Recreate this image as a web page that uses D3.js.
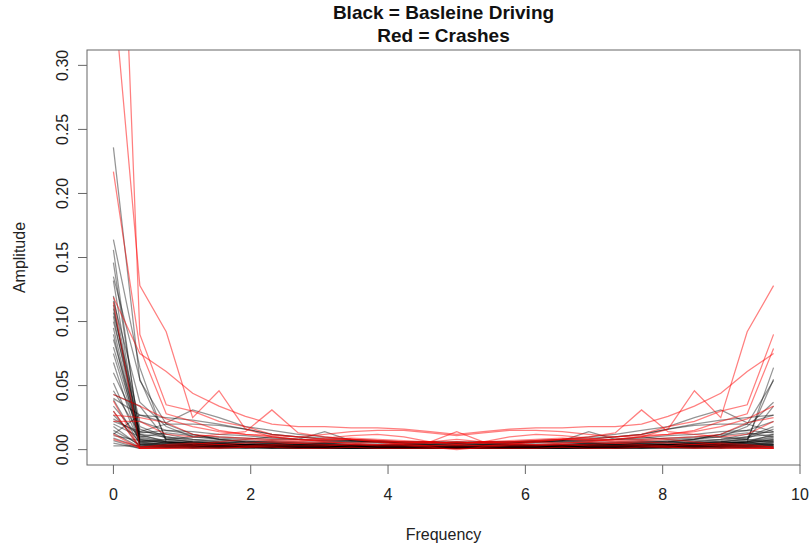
<html>
    <head>
        <script src="https://d3js.org/d3.v7.min.js" charset="utf-8"></script>
    </head>

    <style>
        body{
            margin:0;
            background:white;
        }
        text{
            font-family:"Liberation Sans", Arial, Helvetica, sans-serif;
        }
    </style>

    <body>
        <div id='graph'></div>
    </body>

    <script>
        // frequency bins (26 points, 0 .. 9.615)
        const freq = [0, 0.385, 0.769, 1.154, 1.538, 1.923, 2.308, 2.692, 3.077, 3.462, 3.846, 4.231, 4.615,
                      5.0, 5.385, 5.769, 6.154, 6.538, 6.923, 7.308, 7.692, 8.077, 8.462, 8.846, 9.231, 9.615];

        const xTicks = [0, 2, 4, 6, 8, 10];
        const yTicks = [0, 0.05, 0.10, 0.15, 0.20, 0.25, 0.30];
        const titleLines = ['Black = Basleine Driving', 'Red = Crashes'];

        // baseline driving spectra (black)
        const baseline = [
            [0.236,0.054,0.020,0.012,0.008,0.006,0.005,0.004,0.004,0.003,0.003,0.002,0.003,0.002,0.003,0.002,0.003,0.003,0.004,0.004,0.005,0.006,0.008,0.012,0.020,0.054],
            [0.146,0.012,0.006,0.004,0.004,0.003,0.003,0.002,0.003,0.002,0.002,0.002,0.001,0.002,0.001,0.002,0.002,0.002,0.003,0.002,0.003,0.003,0.004,0.004,0.006,0.012],
            [0.164,0.064,0.006,0.005,0.004,0.004,0.003,0.003,0.003,0.002,0.003,0.002,0.002,0.002,0.002,0.002,0.003,0.002,0.003,0.003,0.003,0.004,0.004,0.005,0.006,0.064],
            [0.156,0.008,0.005,0.003,0.004,0.003,0.002,0.003,0.002,0.002,0.003,0.002,0.002,0.001,0.002,0.002,0.003,0.002,0.002,0.003,0.002,0.003,0.004,0.003,0.005,0.008],
            [0.135,0.055,0.008,0.006,0.005,0.004,0.004,0.003,0.004,0.003,0.003,0.003,0.002,0.003,0.002,0.003,0.003,0.003,0.004,0.003,0.004,0.004,0.005,0.006,0.008,0.055],
            [0.132,0.006,0.004,0.003,0.002,0.003,0.002,0.002,0.002,0.001,0.002,0.002,0.001,0.001,0.001,0.002,0.002,0.001,0.002,0.002,0.002,0.003,0.002,0.003,0.004,0.006],
            [0.116,0.037,0.018,0.010,0.008,0.006,0.005,0.005,0.004,0.004,0.003,0.003,0.003,0.002,0.003,0.003,0.003,0.004,0.004,0.005,0.005,0.006,0.008,0.010,0.018,0.037],
            [0.113,0.004,0.003,0.003,0.002,0.002,0.002,0.001,0.002,0.002,0.001,0.001,0.001,0.001,0.001,0.001,0.001,0.002,0.002,0.001,0.002,0.002,0.002,0.003,0.003,0.004],
            [0.107,0.022,0.015,0.012,0.008,0.007,0.006,0.005,0.005,0.004,0.004,0.004,0.003,0.003,0.003,0.004,0.004,0.004,0.005,0.005,0.006,0.007,0.008,0.012,0.015,0.022],
            [0.104,0.005,0.004,0.002,0.003,0.002,0.002,0.002,0.001,0.002,0.002,0.001,0.002,0.001,0.002,0.001,0.002,0.002,0.001,0.002,0.002,0.002,0.003,0.002,0.004,0.005],
            [0.110,0.010,0.006,0.005,0.004,0.003,0.003,0.003,0.002,0.002,0.002,0.002,0.002,0.002,0.002,0.002,0.002,0.002,0.002,0.003,0.003,0.003,0.004,0.005,0.006,0.010],
            [0.086,0.014,0.012,0.008,0.006,0.005,0.004,0.004,0.003,0.003,0.003,0.003,0.002,0.002,0.002,0.003,0.003,0.003,0.003,0.004,0.004,0.005,0.006,0.008,0.012,0.014],
            [0.075,0.008,0.005,0.004,0.003,0.003,0.002,0.002,0.002,0.002,0.002,0.001,0.001,0.002,0.001,0.001,0.002,0.002,0.002,0.002,0.002,0.003,0.003,0.004,0.005,0.008],
            [0.043,0.034,0.008,0.006,0.005,0.004,0.004,0.003,0.003,0.003,0.002,0.002,0.002,0.002,0.002,0.002,0.002,0.003,0.003,0.003,0.004,0.004,0.005,0.006,0.008,0.034],
            [0.039,0.004,0.003,0.003,0.002,0.002,0.002,0.002,0.001,0.001,0.002,0.001,0.001,0.001,0.001,0.001,0.002,0.001,0.001,0.002,0.002,0.002,0.002,0.003,0.003,0.004],
            [0.012,0.027,0.021,0.031,0.025,0.018,0.015,0.012,0.010,0.008,0.007,0.006,0.006,0.005,0.006,0.006,0.007,0.008,0.010,0.012,0.015,0.018,0.025,0.031,0.021,0.027],
            [0.027,0.006,0.008,0.010,0.009,0.008,0.010,0.008,0.014,0.007,0.006,0.005,0.004,0.004,0.004,0.005,0.006,0.007,0.014,0.008,0.010,0.008,0.009,0.010,0.008,0.006],
            [0.022,0.014,0.020,0.020,0.019,0.016,0.012,0.010,0.008,0.007,0.006,0.005,0.005,0.004,0.005,0.005,0.006,0.007,0.008,0.010,0.012,0.016,0.019,0.020,0.020,0.014],
            [0.018,0.003,0.002,0.003,0.002,0.002,0.001,0.002,0.002,0.001,0.001,0.002,0.001,0.001,0.001,0.002,0.001,0.001,0.002,0.002,0.001,0.002,0.002,0.003,0.002,0.003],
            [0.013,0.002,0.003,0.004,0.003,0.004,0.005,0.004,0.005,0.006,0.005,0.004,0.005,0.006,0.005,0.004,0.005,0.006,0.005,0.004,0.005,0.004,0.003,0.004,0.003,0.002],
            [0.009,0.002,0.002,0.001,0.002,0.002,0.003,0.002,0.002,0.003,0.003,0.002,0.003,0.002,0.003,0.002,0.003,0.003,0.002,0.002,0.003,0.002,0.002,0.001,0.002,0.002],
            [0.005,0.001,0.001,0.002,0.001,0.001,0.001,0.001,0.001,0.001,0.001,0.001,0.001,0.001,0.001,0.001,0.001,0.001,0.001,0.001,0.001,0.001,0.001,0.002,0.001,0.001],
            [0.003,0.003,0.004,0.004,0.003,0.004,0.004,0.003,0.004,0.004,0.003,0.004,0.004,0.003,0.004,0.004,0.003,0.004,0.004,0.003,0.004,0.004,0.003,0.004,0.004,0.003],
            [0.040,0.027,0.025,0.023,0.020,0.016,0.012,0.010,0.009,0.008,0.007,0.006,0.006,0.005,0.006,0.006,0.007,0.008,0.009,0.010,0.012,0.016,0.020,0.023,0.025,0.027],
            [0.095,0.006,0.004,0.003,0.003,0.002,0.003,0.002,0.002,0.002,0.002,0.002,0.001,0.002,0.001,0.002,0.002,0.002,0.002,0.002,0.003,0.002,0.003,0.003,0.004,0.006],
            [0.090,0.003,0.002,0.002,0.002,0.001,0.002,0.002,0.001,0.002,0.001,0.001,0.002,0.001,0.002,0.001,0.001,0.002,0.001,0.002,0.002,0.001,0.002,0.002,0.002,0.003],
            [0.080,0.011,0.007,0.005,0.004,0.004,0.003,0.003,0.003,0.003,0.002,0.002,0.002,0.002,0.002,0.002,0.002,0.003,0.003,0.003,0.003,0.004,0.004,0.005,0.007,0.011],
            [0.068,0.004,0.003,0.002,0.003,0.002,0.002,0.001,0.002,0.002,0.001,0.002,0.002,0.001,0.002,0.002,0.001,0.002,0.002,0.001,0.002,0.002,0.003,0.002,0.003,0.004],
            [0.060,0.016,0.009,0.006,0.005,0.004,0.004,0.003,0.003,0.003,0.003,0.002,0.002,0.003,0.002,0.002,0.003,0.003,0.003,0.003,0.004,0.004,0.005,0.006,0.009,0.016],
            [0.052,0.005,0.003,0.003,0.002,0.002,0.002,0.002,0.002,0.001,0.001,0.001,0.001,0.001,0.001,0.001,0.001,0.001,0.002,0.002,0.002,0.002,0.002,0.003,0.003,0.005],
            [0.034,0.009,0.006,0.005,0.004,0.004,0.004,0.003,0.004,0.003,0.003,0.003,0.003,0.003,0.003,0.003,0.003,0.003,0.004,0.003,0.004,0.004,0.004,0.005,0.006,0.009],
            [0.030,0.002,0.002,0.001,0.001,0.002,0.001,0.001,0.001,0.001,0.001,0.001,0.001,0.002,0.001,0.001,0.001,0.001,0.001,0.001,0.001,0.002,0.001,0.001,0.002,0.002],
            [0.024,0.012,0.010,0.008,0.007,0.006,0.006,0.005,0.005,0.005,0.004,0.004,0.004,0.004,0.004,0.004,0.004,0.005,0.005,0.005,0.006,0.006,0.007,0.008,0.010,0.012],
            [0.015,0.004,0.005,0.006,0.005,0.006,0.007,0.006,0.006,0.007,0.006,0.005,0.006,0.005,0.006,0.005,0.006,0.007,0.006,0.006,0.007,0.006,0.005,0.006,0.005,0.004],
            [0.011,0.007,0.006,0.004,0.005,0.004,0.003,0.004,0.005,0.004,0.003,0.004,0.004,0.005,0.004,0.004,0.003,0.004,0.005,0.004,0.003,0.004,0.005,0.004,0.006,0.007],
            [0.007,0.001,0.002,0.002,0.003,0.002,0.002,0.003,0.002,0.002,0.002,0.003,0.002,0.002,0.002,0.003,0.002,0.002,0.002,0.003,0.002,0.002,0.003,0.002,0.002,0.001],
            [0.100,0.018,0.010,0.007,0.006,0.005,0.005,0.004,0.004,0.003,0.003,0.003,0.003,0.003,0.003,0.003,0.003,0.003,0.004,0.004,0.005,0.005,0.006,0.007,0.010,0.018],
            [0.120,0.007,0.005,0.004,0.003,0.003,0.003,0.002,0.003,0.002,0.002,0.002,0.002,0.002,0.002,0.002,0.002,0.002,0.003,0.002,0.003,0.003,0.003,0.004,0.005,0.007],
            [0.046,0.013,0.015,0.014,0.012,0.011,0.009,0.008,0.007,0.006,0.006,0.005,0.005,0.005,0.005,0.005,0.006,0.006,0.007,0.008,0.009,0.011,0.012,0.014,0.015,0.013],
            [0.020,0.010,0.013,0.011,0.010,0.009,0.008,0.008,0.007,0.007,0.006,0.006,0.006,0.006,0.006,0.006,0.006,0.007,0.007,0.008,0.008,0.009,0.010,0.011,0.013,0.010]
        ];

        // crash spectra (red)
        const crashes = [
            [0.360,0.128,0.092,0.025,0.046,0.016,0.010,0.008,0.006,0.005,0.006,0.004,0.003,0.004,0.003,0.004,0.006,0.005,0.006,0.008,0.010,0.016,0.046,0.025,0.092,0.128],
            [0.620,0.090,0.035,0.030,0.022,0.018,0.012,0.010,0.008,0.008,0.007,0.006,0.005,0.006,0.005,0.006,0.007,0.008,0.008,0.010,0.012,0.018,0.022,0.030,0.035,0.090],
            [0.119,0.075,0.061,0.044,0.034,0.026,0.020,0.018,0.018,0.017,0.017,0.016,0.014,0.012,0.014,0.016,0.017,0.017,0.018,0.018,0.020,0.026,0.034,0.044,0.061,0.075],
            [0.217,0.079,0.028,0.022,0.015,0.012,0.010,0.008,0.007,0.008,0.006,0.005,0.006,0.004,0.006,0.005,0.006,0.008,0.007,0.008,0.010,0.012,0.015,0.022,0.028,0.079],
            [0.043,0.034,0.024,0.018,0.014,0.012,0.011,0.010,0.012,0.014,0.015,0.015,0.013,0.011,0.013,0.015,0.015,0.014,0.012,0.010,0.011,0.012,0.014,0.018,0.024,0.034],
            [0.027,0.025,0.021,0.012,0.010,0.009,0.008,0.007,0.009,0.011,0.012,0.010,0.006,0.014,0.006,0.010,0.012,0.011,0.009,0.007,0.008,0.009,0.010,0.012,0.021,0.025],
            [0.022,0.022,0.012,0.010,0.012,0.014,0.031,0.013,0.010,0.008,0.007,0.006,0.006,0.005,0.006,0.006,0.007,0.008,0.010,0.013,0.031,0.014,0.012,0.010,0.012,0.022],
            [0.038,0.001,0.002,0.003,0.004,0.005,0.006,0.005,0.004,0.004,0.003,0.003,0.002,0.000,0.002,0.003,0.003,0.004,0.004,0.005,0.006,0.005,0.004,0.003,0.002,0.001],
            [0.030,0.001,0.001,0.001,0.001,0.002,0.002,0.001,0.001,0.002,0.001,0.001,0.001,0.001,0.001,0.001,0.001,0.002,0.001,0.001,0.002,0.002,0.001,0.001,0.001,0.001],
            [0.012,0.001,0.001,0.002,0.002,0.002,0.003,0.003,0.003,0.004,0.004,0.005,0.005,0.006,0.005,0.005,0.004,0.004,0.003,0.003,0.003,0.002,0.002,0.002,0.001,0.001],
            [0.008,0.002,0.003,0.004,0.006,0.008,0.007,0.006,0.008,0.009,0.008,0.007,0.006,0.008,0.006,0.007,0.008,0.009,0.008,0.006,0.007,0.008,0.006,0.004,0.003,0.002],
            [0.115,0.002,0.004,0.005,0.004,0.003,0.004,0.005,0.006,0.005,0.004,0.004,0.003,0.003,0.003,0.004,0.004,0.005,0.006,0.005,0.004,0.003,0.004,0.005,0.004,0.002]
        ];

        const w = 810;
        const h = 547;
        const boxLeft = 87, boxRight = 800, boxTop = 50, boxBottom = 465;

        // R style: 4% padding around data range, ylim = c(0, 0.3)
        const xScale = d3.scaleLinear().domain([-0.3846, 10]).range([boxLeft, boxRight]);
        const yScale = d3.scaleLinear().domain([-0.012, 0.312]).range([boxBottom, boxTop]);

        const svg = d3.select('#graph')
                    .append('svg')
                    .attr('width', w)
                    .attr('height', h);

        svg.append('defs').append('clipPath')
            .attr('id', 'plotclip')
            .append('rect')
            .attr('x', boxLeft)
            .attr('y', boxTop)
            .attr('width', boxRight - boxLeft)
            .attr('height', boxBottom - boxTop);

        const line = d3.line()
                       .x((d, i) => xScale(freq[i]))
                       .y((d) => yScale(d));

        const lines = svg.append('g').attr('clip-path', 'url(#plotclip)');

        lines.selectAll('.base')
            .data(baseline)
            .enter()
            .append('path')
            .attr('class', 'base')
            .attr('d', line)
            .attr('fill', 'none')
            .attr('stroke', 'rgba(0,0,0,0.42)')
            .attr('stroke-width', 1.25);

        lines.selectAll('.crash')
            .data(crashes)
            .enter()
            .append('path')
            .attr('class', 'crash')
            .attr('d', line)
            .attr('fill', 'none')
            .attr('stroke', 'rgba(255,0,0,0.5)')
            .attr('stroke-width', 1.25);

        // plot box
        svg.append('rect')
            .attr('x', boxLeft)
            .attr('y', boxTop)
            .attr('width', boxRight - boxLeft)
            .attr('height', boxBottom - boxTop)
            .attr('fill', 'none')
            .attr('stroke', '#666')
            .attr('stroke-width', 1);

        // x axis (ticks below box)
        const xAxis = svg.append('g').attr('id', 'x-axis');
        xAxis.selectAll('line')
            .data(xTicks)
            .enter()
            .append('line')
            .attr('x1', (d) => xScale(d))
            .attr('x2', (d) => xScale(d))
            .attr('y1', boxBottom)
            .attr('y2', boxBottom + 9)
            .attr('stroke', '#666');
        xAxis.selectAll('text')
            .data(xTicks)
            .enter()
            .append('text')
            .attr('x', (d) => xScale(d))
            .attr('y', boxBottom + 35)
            .attr('text-anchor', 'middle')
            .style('font-size', '16px')
            .style('fill', '#222')
            .text((d) => d);

        // y axis (ticks left of box, rotated labels)
        const yAxis = svg.append('g').attr('id', 'y-axis');
        yAxis.selectAll('line')
            .data(yTicks)
            .enter()
            .append('line')
            .attr('x1', boxLeft - 9)
            .attr('x2', boxLeft)
            .attr('y1', (d) => yScale(d))
            .attr('y2', (d) => yScale(d))
            .attr('stroke', '#666');
        yAxis.selectAll('text')
            .data(yTicks)
            .enter()
            .append('text')
            .attr('transform', (d) => 'translate(' + (boxLeft - 19) + ',' + yScale(d) + ') rotate(-90)')
            .attr('text-anchor', 'middle')
            .style('font-size', '16px')
            .style('fill', '#222')
            .text((d) => d3.format('.2f')(d));

        // axis titles
        svg.append('text')
            .attr('x', (boxLeft + boxRight) / 2)
            .attr('y', 540)
            .attr('text-anchor', 'middle')
            .style('font-size', '16px')
            .style('fill', '#222')
            .text('Frequency');

        svg.append('text')
            .attr('transform', 'translate(25,' + (boxTop + boxBottom) / 2 + ') rotate(-90)')
            .attr('text-anchor', 'middle')
            .style('font-size', '16px')
            .style('fill', '#222')
            .text('Amplitude');

        // two-line title
        svg.selectAll('.title')
            .data(titleLines)
            .enter()
            .append('text')
            .attr('class', 'title')
            .attr('x', (boxLeft + boxRight) / 2)
            .attr('y', (d, i) => 19 + i * 23)
            .attr('text-anchor', 'middle')
            .style('font-size', '19px')
            .style('font-weight', 'bold')
            .style('fill', '#111')
            .text((d) => d);
    </script>
</html>
